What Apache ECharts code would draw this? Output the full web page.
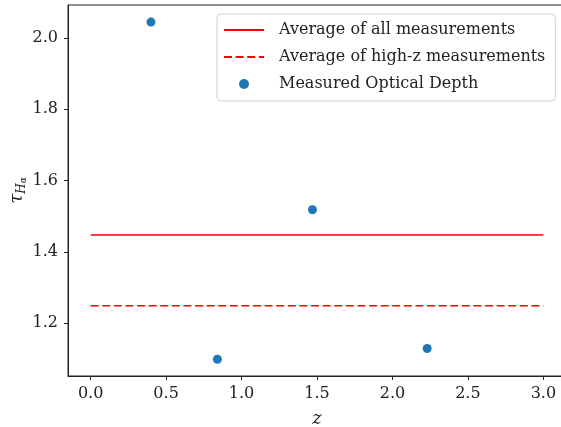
<!DOCTYPE html>
<html>
<head>
<meta charset="utf-8">
<script src="https://cdn.jsdelivr.net/npm/echarts@6/dist/echarts.min.js"></script>
<style>html,body{margin:0;padding:0;background:#fff}#c{width:561px;height:427px}</style>
</head>
<body>
<div id="c"></div>
<script>
const zValues = [0.40, 0.84, 1.47, 2.23];
const tauValues = [2.044, 1.099, 1.518, 1.129];
const avgAll = 1.4475;
const avgHighZ = 1.2487;
const lineX = [0, 3];
const xTicks = [0, 0.5, 1.0, 1.5, 2.0, 2.5, 3.0];
const yTicks = [1.2, 1.4, 1.6, 1.8, 2.0];
const seriesNames = ['Average of all measurements', 'Average of high-z measurements', 'Measured Optical Depth'];

const FONT = 'DejaVu Serif';
const chart = echarts.init(document.getElementById('c'));
chart.setOption({
  animation: false,
  grid: { left: 68, top: 5, width: 498, height: 371, outerBoundsMode: 'none', containLabel: false, show: true, borderColor: '#222', borderWidth: 1, backgroundColor: 'transparent' },
  xAxis: {
    type: 'value', min: -0.15, max: 3.15,
    name: 'z', nameLocation: 'middle', nameGap: 34,
    nameTextStyle: { fontFamily: FONT, fontStyle: 'italic', fontSize: 18, color: '#222' },
    axisLine: { show: true, onZero: false, lineStyle: { color: '#222' } },
    axisTick: { show: true, customValues: xTicks, length: 4, lineStyle: { color: '#222' } },
    axisLabel: { customValues: xTicks, formatter: v => v.toFixed(1), fontFamily: FONT, fontSize: 16, color: '#222', margin: 10 },
    splitLine: { show: false }
  },
  yAxis: {
    type: 'value', min: 1.052, max: 2.092,
    name: '{t|τ}{s|H}{ss|α}', nameLocation: 'middle', nameGap: 40, nameRotate: 90, nameMoveOverlap: false,
    nameTextStyle: {
      color: '#222',
      rich: {
        t: { fontFamily: FONT, fontStyle: 'italic', fontSize: 18, color: '#222' },
        s: { fontFamily: FONT, fontStyle: 'italic', fontSize: 12, color: '#222', padding: [8, 0, 0, 0] },
        ss: { fontFamily: FONT, fontStyle: 'italic', fontSize: 9, color: '#222', padding: [12, 0, 0, 0] }
      }
    },
    axisLine: { show: true, onZero: false, lineStyle: { color: '#222' } },
    axisTick: { show: true, customValues: yTicks, length: 4, lineStyle: { color: '#222' } },
    axisLabel: { customValues: yTicks, formatter: v => v.toFixed(1), fontFamily: FONT, fontSize: 16, color: '#222', margin: 10 },
    splitLine: { show: false }
  },
  legend: {
    orient: 'vertical', left: 217, top: 14,
    data: [
      { name: seriesNames[0], itemStyle: { opacity: 0 } },
      { name: seriesNames[1], itemStyle: { opacity: 0 } },
      { name: seriesNames[2], icon: 'circle' }
    ],
    backgroundColor: '#fff', borderColor: '#d0d0d0', borderWidth: 1, borderRadius: 4,
    padding: [6, 10, 7, 6],
    itemWidth: 40, itemHeight: 10, itemGap: 7,
    textStyle: { fontFamily: FONT, fontSize: 16, color: '#222', lineHeight: 20, padding: [0, 0, 0, 10] }
  },
  series: [
    {
      name: seriesNames[0], type: 'line', symbol: 'none',
      data: lineX.map(x => [x, avgAll]),
      lineStyle: { color: 'red', width: 1.5 }, itemStyle: { color: 'red' }
    },
    {
      name: seriesNames[1], type: 'line', symbol: 'none',
      data: lineX.map(x => [x, avgHighZ]),
      lineStyle: { color: 'red', width: 1.5, type: [8, 3.6] }, itemStyle: { color: 'red' }
    },
    {
      name: seriesNames[2], type: 'scatter', symbolSize: 9,
      data: zValues.map((z, i) => [z, tauValues[i]]),
      itemStyle: { color: '#1f77b4', opacity: 1 }
    }
  ]
});
</script>
</body>
</html>
